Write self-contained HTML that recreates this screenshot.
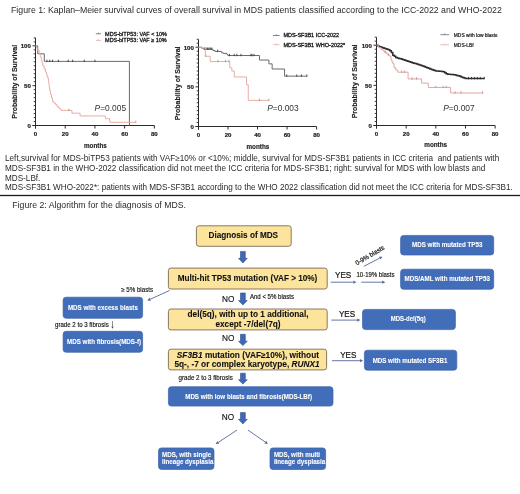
<!DOCTYPE html>
<html><head><meta charset="utf-8"><style>
html,body{margin:0;padding:0;background:#fff;}
body{width:520px;height:494px;overflow:hidden;position:relative;}
svg{position:absolute;left:0;top:0;font-family:"Liberation Sans", sans-serif;filter:blur(0.3px);}
</style></head><body>
<svg width="520" height="494" viewBox="0 0 520 494">
<text x="11" y="13.0" font-size="8.74" fill="#2a2a2a">Figure 1: Kaplan–Meier survival curves of overall survival in MDS patients classified according to the ICC-2022 and WHO-2022</text>
<line x1="35.5" y1="37.89" x2="35.5" y2="128.50" stroke="#2b2b2b" stroke-width="1"/><line x1="32.5" y1="125.5" x2="154.38" y2="125.5" stroke="#2b2b2b" stroke-width="1"/><line x1="33.7" y1="121.52" x2="35.5" y2="121.52" stroke="#2b2b2b" stroke-width="0.9"/><line x1="33.7" y1="117.53" x2="35.5" y2="117.53" stroke="#2b2b2b" stroke-width="0.9"/><line x1="33.7" y1="113.55" x2="35.5" y2="113.55" stroke="#2b2b2b" stroke-width="0.9"/><line x1="33.7" y1="109.57" x2="35.5" y2="109.57" stroke="#2b2b2b" stroke-width="0.9"/><line x1="33.7" y1="105.59" x2="35.5" y2="105.59" stroke="#2b2b2b" stroke-width="0.9"/><line x1="33.7" y1="101.61" x2="35.5" y2="101.61" stroke="#2b2b2b" stroke-width="0.9"/><line x1="33.7" y1="97.62" x2="35.5" y2="97.62" stroke="#2b2b2b" stroke-width="0.9"/><line x1="33.7" y1="93.64" x2="35.5" y2="93.64" stroke="#2b2b2b" stroke-width="0.9"/><line x1="33.7" y1="89.66" x2="35.5" y2="89.66" stroke="#2b2b2b" stroke-width="0.9"/><line x1="33.7" y1="81.69" x2="35.5" y2="81.69" stroke="#2b2b2b" stroke-width="0.9"/><line x1="33.7" y1="77.71" x2="35.5" y2="77.71" stroke="#2b2b2b" stroke-width="0.9"/><line x1="33.7" y1="73.73" x2="35.5" y2="73.73" stroke="#2b2b2b" stroke-width="0.9"/><line x1="33.7" y1="69.75" x2="35.5" y2="69.75" stroke="#2b2b2b" stroke-width="0.9"/><line x1="33.7" y1="65.76" x2="35.5" y2="65.76" stroke="#2b2b2b" stroke-width="0.9"/><line x1="33.7" y1="61.78" x2="35.5" y2="61.78" stroke="#2b2b2b" stroke-width="0.9"/><line x1="33.7" y1="57.80" x2="35.5" y2="57.80" stroke="#2b2b2b" stroke-width="0.9"/><line x1="33.7" y1="53.81" x2="35.5" y2="53.81" stroke="#2b2b2b" stroke-width="0.9"/><line x1="33.7" y1="49.83" x2="35.5" y2="49.83" stroke="#2b2b2b" stroke-width="0.9"/><line x1="33.7" y1="41.87" x2="35.5" y2="41.87" stroke="#2b2b2b" stroke-width="0.9"/><line x1="33.7" y1="37.89" x2="35.5" y2="37.89" stroke="#2b2b2b" stroke-width="0.9"/><line x1="32.5" y1="125.50" x2="35.5" y2="125.50" stroke="#2b2b2b" stroke-width="1"/><text x="30.90" y="127.80" font-size="6.1" font-weight="700" text-anchor="end" fill="#1e1e1e" stroke="#1e1e1e" stroke-width="0.2">0</text><line x1="32.5" y1="85.67" x2="35.5" y2="85.67" stroke="#2b2b2b" stroke-width="1"/><text x="30.90" y="87.97" font-size="6.1" font-weight="700" text-anchor="end" fill="#1e1e1e" stroke="#1e1e1e" stroke-width="0.2">50</text><line x1="32.5" y1="45.85" x2="35.5" y2="45.85" stroke="#2b2b2b" stroke-width="1"/><text x="30.90" y="48.15" font-size="6.1" font-weight="700" text-anchor="end" fill="#1e1e1e" stroke="#1e1e1e" stroke-width="0.2">100</text><line x1="35.50" y1="125.5" x2="35.50" y2="128.50" stroke="#2b2b2b" stroke-width="1"/><text x="35.50" y="136.30" font-size="6.1" font-weight="700" text-anchor="middle" fill="#1e1e1e" stroke="#1e1e1e" stroke-width="0.2">0</text><line x1="65.22" y1="125.5" x2="65.22" y2="128.50" stroke="#2b2b2b" stroke-width="1"/><text x="65.22" y="136.30" font-size="6.1" font-weight="700" text-anchor="middle" fill="#1e1e1e" stroke="#1e1e1e" stroke-width="0.2">20</text><line x1="94.94" y1="125.5" x2="94.94" y2="128.50" stroke="#2b2b2b" stroke-width="1"/><text x="94.94" y="136.30" font-size="6.1" font-weight="700" text-anchor="middle" fill="#1e1e1e" stroke="#1e1e1e" stroke-width="0.2">40</text><line x1="124.66" y1="125.5" x2="124.66" y2="128.50" stroke="#2b2b2b" stroke-width="1"/><text x="124.66" y="136.30" font-size="6.1" font-weight="700" text-anchor="middle" fill="#1e1e1e" stroke="#1e1e1e" stroke-width="0.2">60</text><line x1="154.38" y1="125.5" x2="154.38" y2="128.50" stroke="#2b2b2b" stroke-width="1"/><text x="154.38" y="136.30" font-size="6.1" font-weight="700" text-anchor="middle" fill="#1e1e1e" stroke="#1e1e1e" stroke-width="0.2">80</text><text x="95.40" y="147.60" font-size="6.3" font-weight="700" text-anchor="middle" fill="#1e1e1e" stroke="#1e1e1e" stroke-width="0.15">months</text><text transform="translate(16.60,81.80) rotate(-90)" x="0" y="0" font-size="7" font-weight="700" text-anchor="middle" fill="#1e1e1e" stroke="#1e1e1e" stroke-width="0.15">Probability of Survival</text><path d="M35.50,45.85H37.73V53.81H44.27V61.38H129.42V125.50" fill="none" stroke="#6a6a6a" stroke-width="1.0"/><line x1="46.94" y1="59.68" x2="46.94" y2="62.08" stroke="#3a3a3a" stroke-width="0.9"/><line x1="49.77" y1="59.68" x2="49.77" y2="62.08" stroke="#3a3a3a" stroke-width="0.9"/><line x1="52.59" y1="59.68" x2="52.59" y2="62.08" stroke="#3a3a3a" stroke-width="0.9"/><line x1="58.38" y1="59.68" x2="58.38" y2="62.08" stroke="#3a3a3a" stroke-width="0.9"/><line x1="68.19" y1="59.68" x2="68.19" y2="62.08" stroke="#3a3a3a" stroke-width="0.9"/><line x1="72.65" y1="59.68" x2="72.65" y2="62.08" stroke="#3a3a3a" stroke-width="0.9"/><line x1="84.24" y1="59.68" x2="84.24" y2="62.08" stroke="#3a3a3a" stroke-width="0.9"/><line x1="94.94" y1="59.68" x2="94.94" y2="62.08" stroke="#3a3a3a" stroke-width="0.9"/><path d="M35.50,45.85H36.69V48.24H37.88V50.63H39.22V53.81H40.26V57.00H41.30V60.19H42.04V62.97H42.78V65.76H44.12V68.95H45.46V72.13H46.64V75.32H47.69V78.11H48.43V82.49H49.17V87.27H49.77V90.85H50.51V94.44H51.55V98.02H52.59V101.61H53.93V103.04H55.41V104.39H56.90V106.22H58.38V107.98H60.02V109.17H61.21V110.37H71.91V113.15H80.08V115.94H105.34V118.73H109.80V122.31H135.81" fill="none" stroke="#e6aea2" stroke-width="1.0"/><line x1="68.94" y1="108.67" x2="68.94" y2="111.07" stroke="#b89593" stroke-width="0.9"/><line x1="135.81" y1="120.61" x2="135.81" y2="123.01" stroke="#b89593" stroke-width="0.9"/><text x="94.6" y="111" font-size="8.4" fill="#333"><tspan font-style="italic">P</tspan>=0.005</text><line x1="95.8" y1="33.8" x2="101" y2="33.8" stroke="#6a6a6a" stroke-width="0.8"/><line x1="98.4" y1="32.6" x2="98.4" y2="33.8" stroke="#6a6a6a" stroke-width="0.8"/><line x1="95.8" y1="40.4" x2="101" y2="40.4" stroke="#e6aea2" stroke-width="0.8"/><line x1="98.4" y1="39.2" x2="98.4" y2="40.4" stroke="#e6aea2" stroke-width="0.8"/><text x="105.1" y="35.7" font-size="5.47" fill="#222" stroke="#222" stroke-width="0.32">MDS-biTP53: VAF &lt; 10%</text><text x="105.1" y="42.3" font-size="5.47" fill="#222" stroke="#222" stroke-width="0.32">MDS-biTP53: VAF ≥ 10%</text><line x1="198.5" y1="39.27" x2="198.5" y2="129.50" stroke="#2b2b2b" stroke-width="1"/><line x1="195.5" y1="126.5" x2="316.58" y2="126.5" stroke="#2b2b2b" stroke-width="1"/><line x1="196.7" y1="122.53" x2="198.5" y2="122.53" stroke="#2b2b2b" stroke-width="0.9"/><line x1="196.7" y1="118.57" x2="198.5" y2="118.57" stroke="#2b2b2b" stroke-width="0.9"/><line x1="196.7" y1="114.61" x2="198.5" y2="114.61" stroke="#2b2b2b" stroke-width="0.9"/><line x1="196.7" y1="110.64" x2="198.5" y2="110.64" stroke="#2b2b2b" stroke-width="0.9"/><line x1="196.7" y1="106.67" x2="198.5" y2="106.67" stroke="#2b2b2b" stroke-width="0.9"/><line x1="196.7" y1="102.71" x2="198.5" y2="102.71" stroke="#2b2b2b" stroke-width="0.9"/><line x1="196.7" y1="98.75" x2="198.5" y2="98.75" stroke="#2b2b2b" stroke-width="0.9"/><line x1="196.7" y1="94.78" x2="198.5" y2="94.78" stroke="#2b2b2b" stroke-width="0.9"/><line x1="196.7" y1="90.81" x2="198.5" y2="90.81" stroke="#2b2b2b" stroke-width="0.9"/><line x1="196.7" y1="82.88" x2="198.5" y2="82.88" stroke="#2b2b2b" stroke-width="0.9"/><line x1="196.7" y1="78.92" x2="198.5" y2="78.92" stroke="#2b2b2b" stroke-width="0.9"/><line x1="196.7" y1="74.95" x2="198.5" y2="74.95" stroke="#2b2b2b" stroke-width="0.9"/><line x1="196.7" y1="70.99" x2="198.5" y2="70.99" stroke="#2b2b2b" stroke-width="0.9"/><line x1="196.7" y1="67.03" x2="198.5" y2="67.03" stroke="#2b2b2b" stroke-width="0.9"/><line x1="196.7" y1="63.06" x2="198.5" y2="63.06" stroke="#2b2b2b" stroke-width="0.9"/><line x1="196.7" y1="59.09" x2="198.5" y2="59.09" stroke="#2b2b2b" stroke-width="0.9"/><line x1="196.7" y1="55.13" x2="198.5" y2="55.13" stroke="#2b2b2b" stroke-width="0.9"/><line x1="196.7" y1="51.16" x2="198.5" y2="51.16" stroke="#2b2b2b" stroke-width="0.9"/><line x1="196.7" y1="43.23" x2="198.5" y2="43.23" stroke="#2b2b2b" stroke-width="0.9"/><line x1="196.7" y1="39.27" x2="198.5" y2="39.27" stroke="#2b2b2b" stroke-width="0.9"/><line x1="195.5" y1="126.50" x2="198.5" y2="126.50" stroke="#2b2b2b" stroke-width="1"/><text x="193.90" y="128.80" font-size="6.1" font-weight="700" text-anchor="end" fill="#1e1e1e" stroke="#1e1e1e" stroke-width="0.2">0</text><line x1="195.5" y1="86.85" x2="198.5" y2="86.85" stroke="#2b2b2b" stroke-width="1"/><text x="193.90" y="89.15" font-size="6.1" font-weight="700" text-anchor="end" fill="#1e1e1e" stroke="#1e1e1e" stroke-width="0.2">50</text><line x1="195.5" y1="47.20" x2="198.5" y2="47.20" stroke="#2b2b2b" stroke-width="1"/><text x="193.90" y="49.50" font-size="6.1" font-weight="700" text-anchor="end" fill="#1e1e1e" stroke="#1e1e1e" stroke-width="0.2">100</text><line x1="198.50" y1="126.5" x2="198.50" y2="129.50" stroke="#2b2b2b" stroke-width="1"/><text x="198.50" y="137.40" font-size="6.1" font-weight="700" text-anchor="middle" fill="#1e1e1e" stroke="#1e1e1e" stroke-width="0.2">0</text><line x1="228.02" y1="126.5" x2="228.02" y2="129.50" stroke="#2b2b2b" stroke-width="1"/><text x="228.02" y="137.40" font-size="6.1" font-weight="700" text-anchor="middle" fill="#1e1e1e" stroke="#1e1e1e" stroke-width="0.2">20</text><line x1="257.54" y1="126.5" x2="257.54" y2="129.50" stroke="#2b2b2b" stroke-width="1"/><text x="257.54" y="137.40" font-size="6.1" font-weight="700" text-anchor="middle" fill="#1e1e1e" stroke="#1e1e1e" stroke-width="0.2">40</text><line x1="287.06" y1="126.5" x2="287.06" y2="129.50" stroke="#2b2b2b" stroke-width="1"/><text x="287.06" y="137.40" font-size="6.1" font-weight="700" text-anchor="middle" fill="#1e1e1e" stroke="#1e1e1e" stroke-width="0.2">60</text><line x1="316.58" y1="126.5" x2="316.58" y2="129.50" stroke="#2b2b2b" stroke-width="1"/><text x="316.58" y="137.40" font-size="6.1" font-weight="700" text-anchor="middle" fill="#1e1e1e" stroke="#1e1e1e" stroke-width="0.2">80</text><text x="257.90" y="148.50" font-size="6.3" font-weight="700" text-anchor="middle" fill="#1e1e1e" stroke="#1e1e1e" stroke-width="0.15">months</text><text transform="translate(179.90,83.40) rotate(-90)" x="0" y="0" font-size="7" font-weight="700" text-anchor="middle" fill="#1e1e1e" stroke="#1e1e1e" stroke-width="0.15">Probability of Survival</text><path d="M198.50,47.20H201.89V48.39H203.81V49.18H212.96V50.53H214.88V51.40H221.67V52.75H223.15V53.39H226.99V54.50H227.87V55.53H259.46V60.05H268.91V63.85H272.15V69.01H284.55V76.14H306.84" fill="none" stroke="#6a6a6a" stroke-width="1.0"/><line x1="204.40" y1="47.48" x2="204.40" y2="49.88" stroke="#3a3a3a" stroke-width="0.9"/><line x1="205.88" y1="47.48" x2="205.88" y2="49.88" stroke="#3a3a3a" stroke-width="0.9"/><line x1="207.36" y1="47.48" x2="207.36" y2="49.88" stroke="#3a3a3a" stroke-width="0.9"/><line x1="208.83" y1="47.48" x2="208.83" y2="49.88" stroke="#3a3a3a" stroke-width="0.9"/><line x1="210.31" y1="47.48" x2="210.31" y2="49.88" stroke="#3a3a3a" stroke-width="0.9"/><line x1="211.78" y1="47.48" x2="211.78" y2="49.88" stroke="#3a3a3a" stroke-width="0.9"/><line x1="217.69" y1="49.70" x2="217.69" y2="52.10" stroke="#3a3a3a" stroke-width="0.9"/><line x1="229.50" y1="53.83" x2="229.50" y2="56.23" stroke="#3a3a3a" stroke-width="0.9"/><line x1="234.22" y1="53.83" x2="234.22" y2="56.23" stroke="#3a3a3a" stroke-width="0.9"/><line x1="236.88" y1="53.83" x2="236.88" y2="56.23" stroke="#3a3a3a" stroke-width="0.9"/><line x1="241.01" y1="53.83" x2="241.01" y2="56.23" stroke="#3a3a3a" stroke-width="0.9"/><line x1="250.90" y1="53.83" x2="250.90" y2="56.23" stroke="#3a3a3a" stroke-width="0.9"/><line x1="251.93" y1="53.83" x2="251.93" y2="56.23" stroke="#3a3a3a" stroke-width="0.9"/><line x1="254.00" y1="53.83" x2="254.00" y2="56.23" stroke="#3a3a3a" stroke-width="0.9"/><line x1="286.76" y1="74.44" x2="286.76" y2="76.84" stroke="#3a3a3a" stroke-width="0.9"/><line x1="296.80" y1="74.44" x2="296.80" y2="76.84" stroke="#3a3a3a" stroke-width="0.9"/><line x1="301.38" y1="74.44" x2="301.38" y2="76.84" stroke="#3a3a3a" stroke-width="0.9"/><line x1="306.84" y1="74.44" x2="306.84" y2="76.84" stroke="#3a3a3a" stroke-width="0.9"/><path d="M198.50,47.20H201.45V47.99H205.29V56.24H210.16V61.55H229.79V67.82H231.86V70.99H234.22V76.94H246.47V84.63H248.24V100.33H268.91" fill="none" stroke="#e6aea2" stroke-width="1.0"/><line x1="205.73" y1="54.54" x2="205.73" y2="56.94" stroke="#b89593" stroke-width="0.9"/><line x1="217.84" y1="59.85" x2="217.84" y2="62.25" stroke="#b89593" stroke-width="0.9"/><line x1="225.51" y1="59.85" x2="225.51" y2="62.25" stroke="#b89593" stroke-width="0.9"/><line x1="228.91" y1="59.85" x2="228.91" y2="62.25" stroke="#b89593" stroke-width="0.9"/><line x1="259.46" y1="98.63" x2="259.46" y2="101.03" stroke="#b89593" stroke-width="0.9"/><line x1="268.91" y1="98.63" x2="268.91" y2="101.03" stroke="#b89593" stroke-width="0.9"/><text x="267.2" y="111" font-size="8.4" fill="#333"><tspan font-style="italic">P</tspan>=0.003</text><line x1="273" y1="35.5" x2="279.7" y2="35.5" stroke="#6a6a6a" stroke-width="0.8"/><line x1="276.3" y1="34.3" x2="276.3" y2="35.5" stroke="#6a6a6a" stroke-width="0.8"/><line x1="273" y1="44.7" x2="279.7" y2="44.7" stroke="#e6aea2" stroke-width="0.8"/><line x1="276.3" y1="43.5" x2="276.3" y2="44.7" stroke="#e6aea2" stroke-width="0.8"/><text x="283.4" y="37.4" font-size="5.49" fill="#222" stroke="#222" stroke-width="0.32">MDS-SF3B1 ICC-2022</text><text x="283.4" y="46.6" font-size="5.49" fill="#222" stroke="#222" stroke-width="0.32">MDS-SF3B1 WHO-2022*</text><line x1="376.5" y1="37.17" x2="376.5" y2="128.50" stroke="#2b2b2b" stroke-width="1"/><line x1="373.5" y1="125.5" x2="495.14" y2="125.5" stroke="#2b2b2b" stroke-width="1"/><line x1="374.7" y1="121.48" x2="376.5" y2="121.48" stroke="#2b2b2b" stroke-width="0.9"/><line x1="374.7" y1="117.47" x2="376.5" y2="117.47" stroke="#2b2b2b" stroke-width="0.9"/><line x1="374.7" y1="113.45" x2="376.5" y2="113.45" stroke="#2b2b2b" stroke-width="0.9"/><line x1="374.7" y1="109.44" x2="376.5" y2="109.44" stroke="#2b2b2b" stroke-width="0.9"/><line x1="374.7" y1="105.42" x2="376.5" y2="105.42" stroke="#2b2b2b" stroke-width="0.9"/><line x1="374.7" y1="101.41" x2="376.5" y2="101.41" stroke="#2b2b2b" stroke-width="0.9"/><line x1="374.7" y1="97.39" x2="376.5" y2="97.39" stroke="#2b2b2b" stroke-width="0.9"/><line x1="374.7" y1="93.38" x2="376.5" y2="93.38" stroke="#2b2b2b" stroke-width="0.9"/><line x1="374.7" y1="89.36" x2="376.5" y2="89.36" stroke="#2b2b2b" stroke-width="0.9"/><line x1="374.7" y1="81.34" x2="376.5" y2="81.34" stroke="#2b2b2b" stroke-width="0.9"/><line x1="374.7" y1="77.32" x2="376.5" y2="77.32" stroke="#2b2b2b" stroke-width="0.9"/><line x1="374.7" y1="73.31" x2="376.5" y2="73.31" stroke="#2b2b2b" stroke-width="0.9"/><line x1="374.7" y1="69.29" x2="376.5" y2="69.29" stroke="#2b2b2b" stroke-width="0.9"/><line x1="374.7" y1="65.28" x2="376.5" y2="65.28" stroke="#2b2b2b" stroke-width="0.9"/><line x1="374.7" y1="61.26" x2="376.5" y2="61.26" stroke="#2b2b2b" stroke-width="0.9"/><line x1="374.7" y1="57.24" x2="376.5" y2="57.24" stroke="#2b2b2b" stroke-width="0.9"/><line x1="374.7" y1="53.23" x2="376.5" y2="53.23" stroke="#2b2b2b" stroke-width="0.9"/><line x1="374.7" y1="49.21" x2="376.5" y2="49.21" stroke="#2b2b2b" stroke-width="0.9"/><line x1="374.7" y1="41.18" x2="376.5" y2="41.18" stroke="#2b2b2b" stroke-width="0.9"/><line x1="374.7" y1="37.17" x2="376.5" y2="37.17" stroke="#2b2b2b" stroke-width="0.9"/><line x1="373.5" y1="125.50" x2="376.5" y2="125.50" stroke="#2b2b2b" stroke-width="1"/><text x="371.90" y="127.80" font-size="6.1" font-weight="700" text-anchor="end" fill="#1e1e1e" stroke="#1e1e1e" stroke-width="0.2">0</text><line x1="373.5" y1="85.35" x2="376.5" y2="85.35" stroke="#2b2b2b" stroke-width="1"/><text x="371.90" y="87.65" font-size="6.1" font-weight="700" text-anchor="end" fill="#1e1e1e" stroke="#1e1e1e" stroke-width="0.2">50</text><line x1="373.5" y1="45.20" x2="376.5" y2="45.20" stroke="#2b2b2b" stroke-width="1"/><text x="371.90" y="47.50" font-size="6.1" font-weight="700" text-anchor="end" fill="#1e1e1e" stroke="#1e1e1e" stroke-width="0.2">100</text><line x1="376.50" y1="125.5" x2="376.50" y2="128.50" stroke="#2b2b2b" stroke-width="1"/><text x="376.50" y="136.00" font-size="6.1" font-weight="700" text-anchor="middle" fill="#1e1e1e" stroke="#1e1e1e" stroke-width="0.2">0</text><line x1="406.16" y1="125.5" x2="406.16" y2="128.50" stroke="#2b2b2b" stroke-width="1"/><text x="406.16" y="136.00" font-size="6.1" font-weight="700" text-anchor="middle" fill="#1e1e1e" stroke="#1e1e1e" stroke-width="0.2">20</text><line x1="435.82" y1="125.5" x2="435.82" y2="128.50" stroke="#2b2b2b" stroke-width="1"/><text x="435.82" y="136.00" font-size="6.1" font-weight="700" text-anchor="middle" fill="#1e1e1e" stroke="#1e1e1e" stroke-width="0.2">40</text><line x1="465.48" y1="125.5" x2="465.48" y2="128.50" stroke="#2b2b2b" stroke-width="1"/><text x="465.48" y="136.00" font-size="6.1" font-weight="700" text-anchor="middle" fill="#1e1e1e" stroke="#1e1e1e" stroke-width="0.2">60</text><line x1="495.14" y1="125.5" x2="495.14" y2="128.50" stroke="#2b2b2b" stroke-width="1"/><text x="495.14" y="136.00" font-size="6.1" font-weight="700" text-anchor="middle" fill="#1e1e1e" stroke="#1e1e1e" stroke-width="0.2">80</text><text x="435.70" y="146.60" font-size="6.3" font-weight="700" text-anchor="middle" fill="#1e1e1e" stroke="#1e1e1e" stroke-width="0.15">months</text><text transform="translate(357.40,81.40) rotate(-90)" x="0" y="0" font-size="7" font-weight="700" text-anchor="middle" fill="#1e1e1e" stroke="#1e1e1e" stroke-width="0.15">Probability of Survival</text><path d="M376.50,45.20H377.98V45.92H379.47V46.63H380.95V47.31H382.43V47.82H383.92V48.33H385.40V48.85H386.88V49.36H388.36V49.87H389.85V50.79H391.33V52.55H392.81V55.16H394.30V56.30H395.78V57.45H397.26V57.97H398.75V58.41H400.23V58.86H401.71V59.31H403.19V59.75H404.68V60.23H406.16V60.74H407.64V61.25H409.13V61.75H410.61V62.26H412.09V62.73H413.57V63.16H415.06V63.60H416.54V64.03H418.02V64.47H419.51V64.90H420.99V65.44H422.47V66.02H423.96V66.60H425.44V67.18H426.92V67.75H428.40V68.33H429.89V68.91H431.37V69.47H432.85V70.03H434.34V70.59H435.82V70.90H437.30V71.03H438.79V71.16H440.27V71.30H441.75V71.43H443.24V71.73H444.72V72.72H446.20V73.70H447.68V74.25H449.17V74.37H450.65V74.49H452.13V74.60H453.62V74.72H455.10V74.88H456.58V75.38H458.06V75.87H459.55V76.37H461.03V76.91H462.51V77.47H464.00V78.03H465.48V78.59H484.31" fill="none" stroke="#2e2e2e" stroke-width="1.5"/><path d="M376.50,45.20H378.72V47.61H380.95V49.21H383.03V50.82H384.66V52.43H386.73V54.03H388.36V55.24H389.85V56.44H391.03V59.65H391.92V61.66H392.81V63.67H394.00V67.68H395.78V70.09H397.71V72.18H408.09V78.93H421.58V83.10H428.26V87.44H450.65V92.98H482.68" fill="none" stroke="#e6a4a1" stroke-width="1.0"/><line x1="385.40" y1="50.73" x2="385.40" y2="53.13" stroke="#b89593" stroke-width="0.9"/><line x1="388.36" y1="53.54" x2="388.36" y2="55.94" stroke="#b89593" stroke-width="0.9"/><line x1="401.71" y1="70.48" x2="401.71" y2="72.88" stroke="#b89593" stroke-width="0.9"/><line x1="404.68" y1="70.48" x2="404.68" y2="72.88" stroke="#b89593" stroke-width="0.9"/><line x1="412.09" y1="77.23" x2="412.09" y2="79.63" stroke="#b89593" stroke-width="0.9"/><line x1="416.54" y1="77.23" x2="416.54" y2="79.63" stroke="#b89593" stroke-width="0.9"/><line x1="435.82" y1="85.74" x2="435.82" y2="88.14" stroke="#b89593" stroke-width="0.9"/><line x1="443.24" y1="85.74" x2="443.24" y2="88.14" stroke="#b89593" stroke-width="0.9"/><line x1="446.20" y1="85.74" x2="446.20" y2="88.14" stroke="#b89593" stroke-width="0.9"/><line x1="455.10" y1="91.28" x2="455.10" y2="93.68" stroke="#b89593" stroke-width="0.9"/><line x1="461.03" y1="91.28" x2="461.03" y2="93.68" stroke="#b89593" stroke-width="0.9"/><line x1="482.68" y1="91.28" x2="482.68" y2="93.68" stroke="#b89593" stroke-width="0.9"/><line x1="468.45" y1="76.89" x2="468.45" y2="79.29" stroke="#2a2a2a" stroke-width="0.9"/><line x1="471.41" y1="76.89" x2="471.41" y2="79.29" stroke="#2a2a2a" stroke-width="0.9"/><line x1="474.38" y1="76.89" x2="474.38" y2="79.29" stroke="#2a2a2a" stroke-width="0.9"/><line x1="477.34" y1="76.89" x2="477.34" y2="79.29" stroke="#2a2a2a" stroke-width="0.9"/><line x1="480.31" y1="76.89" x2="480.31" y2="79.29" stroke="#2a2a2a" stroke-width="0.9"/><line x1="484.31" y1="76.89" x2="484.31" y2="79.29" stroke="#2a2a2a" stroke-width="0.9"/><text x="443.2" y="111" font-size="8.4" fill="#333"><tspan font-style="italic">P</tspan>=0.007</text><line x1="440.4" y1="34.7" x2="449.1" y2="34.7" stroke="#6a6a6a" stroke-width="0.8"/><line x1="444.7" y1="33.5" x2="444.7" y2="34.7" stroke="#6a6a6a" stroke-width="0.8"/><line x1="440.4" y1="44.8" x2="449.1" y2="44.8" stroke="#e6aea2" stroke-width="0.8"/><line x1="444.7" y1="43.6" x2="444.7" y2="44.8" stroke="#e6aea2" stroke-width="0.8"/><text x="453.8" y="36.5" font-size="4.9" fill="#222" stroke="#222" stroke-width="0.2">MDS with low blasts</text><text x="453.8" y="46.6" font-size="4.9" fill="#222" stroke="#222" stroke-width="0.2">MDS-LBf</text>
<g font-size="8.17" fill="#2a2a2a">
<text x="5" y="160.6" textLength="494.2" lengthAdjust="spacing">Left,survival for MDS-biTP53 patients with VAF≥10% or &lt;10%; middle, survival for MDS-SF3B1 patients in ICC criteria&#160; and patients with</text>
<text x="5" y="170.8" textLength="480.4" lengthAdjust="spacing">MDS-SF3B1 in the WHO-2022 classification did not meet the ICC criteria for MDS-SF3B1; right: survival for MDS with low blasts and</text>
<text x="5" y="180.6">MDS-LBf.</text>
<text x="5" y="189.8" textLength="507.8" lengthAdjust="spacing">MDS-SF3B1 WHO-2022*: patients with MDS-SF3B1 according to the WHO 2022 classification did not meet the ICC criteria for MDS-SF3B1.</text>
</g>
<rect x="0" y="194.85" width="520" height="1.3" fill="#1a1a1a"/>
<text x="12.3" y="208.1" font-size="8.7" fill="#2a2a2a" textLength="173.7" lengthAdjust="spacing">Figure 2: Algorithm for the diagnosis of MDS.</text>
<rect x="196.4" y="225.8" width="94.80" height="20.50" rx="2.5" fill="#fde49c" stroke="#7a6c55" stroke-width="0.9"/><text x="243.3" y="237.95" font-size="8.2" font-weight="700" fill="#111" text-anchor="middle" stroke="#111" stroke-width="0.08" >Diagnosis of MDS</text><path d="M240.50,251.4 H245.30 V258.30 H247.30 L242.9,263.0 L238.50,258.30 H240.50 Z" fill="#4068b4" stroke="#2d4f90" stroke-width="0.6" stroke-linejoin="round"/><rect x="168.4" y="268.1" width="158.80" height="20.90" rx="2.5" fill="#fde49c" stroke="#7a6c55" stroke-width="0.9"/><text x="247.5" y="280.75" font-size="8.2" font-weight="700" fill="#111" text-anchor="middle" stroke="#111" stroke-width="0.08" >Multi-hit TP53 mutation (VAF &gt; 10%)</text><text x="222.1" y="301.7" font-size="8.27" font-weight="400" fill="#111" text-anchor="start" stroke="#111" stroke-width="0.12" >NO</text><path d="M240.50,293.0 H245.30 V300.50 H247.30 L242.9,304.9 L238.50,300.50 H240.50 Z" fill="#4068b4" stroke="#2d4f90" stroke-width="0.6" stroke-linejoin="round"/><text x="249.9" y="299.0" font-size="6.45" font-weight="400" fill="#111" text-anchor="start" textLength="44.03" lengthAdjust="spacingAndGlyphs" stroke="#111" stroke-width="0.15">And &lt; 5% blasts</text><rect x="168.4" y="309.0" width="158.80" height="20.90" rx="2.5" fill="#fde49c" stroke="#7a6c55" stroke-width="0.9"/><text x="248.0" y="316.85" font-size="8.25" font-weight="700" fill="#111" text-anchor="middle" stroke="#111" stroke-width="0.08" >del(5q), with up to 1 additional,</text><text x="248.0" y="326.7" font-size="8.25" font-weight="700" fill="#111" text-anchor="middle" stroke="#111" stroke-width="0.08" >except -7/del(7q)</text><text x="222" y="341.25" font-size="8.27" font-weight="400" fill="#111" text-anchor="start" stroke="#111" stroke-width="0.12" >NO</text><path d="M240.50,334.3 H245.30 V341.20 H247.30 L242.9,345.6 L238.50,341.20 H240.50 Z" fill="#4068b4" stroke="#2d4f90" stroke-width="0.6" stroke-linejoin="round"/><rect x="168.4" y="349.2" width="158.20" height="20.70" rx="2.5" fill="#fde49c" stroke="#7a6c55" stroke-width="0.9"/><text x="247.9" y="358.1" font-size="8.3" font-weight="700" fill="#111" text-anchor="middle" stroke="#111" stroke-width="0.08" ><tspan font-style='italic'>SF3B1</tspan> mutation (VAF≥10%), without</text><text x="247.0" y="366.85" font-size="8.3" font-weight="700" fill="#111" text-anchor="middle" stroke="#111" stroke-width="0.08" >5q-, -7 or complex karyotype, <tspan font-style='italic'>RUNX1</tspan></text><text x="178.6" y="380.0" font-size="6.5" font-weight="400" fill="#111" text-anchor="start" textLength="54.19" lengthAdjust="spacingAndGlyphs" stroke="#111" stroke-width="0.15">grade 2 to 3 fibrosis</text><path d="M240.50,373.2 H245.30 V379.80 H247.30 L242.9,384.1 L238.50,379.80 H240.50 Z" fill="#4068b4" stroke="#2d4f90" stroke-width="0.6" stroke-linejoin="round"/><rect x="168.4" y="386.7" width="164.60" height="19.40" rx="3" fill="#416db9" stroke="#3d63ac" stroke-width="0.7"/><text x="248.6" y="398.9" font-size="6.4" font-weight="700" fill="#fff" text-anchor="middle" textLength="126.76" lengthAdjust="spacingAndGlyphs" stroke="#fff" stroke-width="0.08">MDS with low blasts and fibrosis(MDS-LBf)</text><text x="221.8" y="419.9" font-size="8.27" font-weight="400" fill="#111" text-anchor="start" stroke="#111" stroke-width="0.12" >NO</text><path d="M240.50,412.6 H245.30 V419.30 H247.30 L242.9,423.9 L238.50,419.30 H240.50 Z" fill="#4068b4" stroke="#2d4f90" stroke-width="0.6" stroke-linejoin="round"/><line x1="237" y1="430.1" x2="218.28" y2="442.35" stroke="#55689c" stroke-width="0.9"/><path d="M215.60,444.10 L217.40,441.01 L219.15,443.69 Z" fill="#55689c"/><line x1="248" y1="430.1" x2="265.27" y2="442.08" stroke="#55689c" stroke-width="0.9"/><path d="M267.90,443.90 L264.36,443.39 L266.18,440.76 Z" fill="#55689c"/><rect x="158.5" y="447.9" width="55.50" height="21.50" rx="3" fill="#416db9" stroke="#3d63ac" stroke-width="0.7"/><text x="162" y="456.5" font-size="6.4" font-weight="700" fill="#fff" text-anchor="start" textLength="49.26" lengthAdjust="spacingAndGlyphs" stroke="#fff" stroke-width="0.08">MDS, with single</text><text x="162" y="463.6" font-size="6.4" font-weight="700" fill="#fff" text-anchor="start" textLength="51.35" lengthAdjust="spacingAndGlyphs" stroke="#fff" stroke-width="0.08">lineage dysplasia</text><rect x="270.0" y="447.9" width="55.60" height="21.60" rx="3" fill="#416db9" stroke="#3d63ac" stroke-width="0.7"/><text x="273.9" y="456.5" font-size="6.4" font-weight="700" fill="#fff" text-anchor="start" textLength="46.15" lengthAdjust="spacingAndGlyphs" stroke="#fff" stroke-width="0.08">MDS, with multi</text><text x="273.9" y="463.6" font-size="6.4" font-weight="700" fill="#fff" text-anchor="start" textLength="51.35" lengthAdjust="spacingAndGlyphs" stroke="#fff" stroke-width="0.08">lineage dysplasia</text><line x1="169.5" y1="290.5" x2="150.21" y2="299.27" stroke="#55689c" stroke-width="0.9"/><path d="M147.30,300.60 L149.55,297.82 L150.88,300.73 Z" fill="#55689c"/><text x="121.25" y="291.6" font-size="6.5" font-weight="400" fill="#111" text-anchor="start" textLength="31.75" lengthAdjust="spacingAndGlyphs" stroke="#111" stroke-width="0.15">≥ 5% blasts</text><rect x="63.1" y="297.2" width="79.50" height="21.10" rx="3" fill="#416db9" stroke="#3d63ac" stroke-width="0.7"/><text x="102.9" y="309.85" font-size="6.4" font-weight="700" fill="#fff" text-anchor="middle" textLength="69.95" lengthAdjust="spacingAndGlyphs" stroke="#fff" stroke-width="0.08">MDS with excess blasts</text><text x="55" y="326.8" font-size="6.5" font-weight="400" fill="#111" text-anchor="start" textLength="53.75" lengthAdjust="spacingAndGlyphs" stroke="#111" stroke-width="0.15">grade 2 to 3 fibrosis</text><line x1="112.5" y1="321" x2="112.50" y2="326.60" stroke="#444" stroke-width="0.6"/><path d="M112.50,328.80 L111.40,326.60 L113.60,326.60 Z" fill="#444"/><rect x="63.1" y="331.3" width="79.50" height="21.00" rx="3" fill="#416db9" stroke="#3d63ac" stroke-width="0.7"/><text x="104.1" y="344.3" font-size="6.4" font-weight="700" fill="#fff" text-anchor="middle" textLength="74.05" lengthAdjust="spacingAndGlyphs" stroke="#fff" stroke-width="0.08">MDS with fibrosis(MDS-f)</text><text x="335" y="278.3" font-size="8.5" font-weight="400" fill="#111" text-anchor="start" textLength="16.21" lengthAdjust="spacingAndGlyphs" stroke="#111" stroke-width="0.2">YES</text><line x1="330.6" y1="282.2" x2="353.30" y2="282.20" stroke="#55689c" stroke-width="0.9"/><path d="M356.50,282.20 L353.30,283.80 L353.30,280.60 Z" fill="#55689c"/><line x1="361.3" y1="282.2" x2="382.20" y2="282.20" stroke="#55689c" stroke-width="0.9"/><path d="M385.40,282.20 L382.20,283.80 L382.20,280.60 Z" fill="#55689c"/><line x1="363.8" y1="266.3" x2="379.65" y2="258.16" stroke="#55689c" stroke-width="0.9"/><path d="M382.50,256.70 L380.38,259.58 L378.92,256.74 Z" fill="#55689c"/><text x="356.5" y="276.6" font-size="6.4" font-weight="400" fill="#111" text-anchor="start" textLength="38.02" lengthAdjust="spacingAndGlyphs" stroke="#111" stroke-width="0.15">10-19% blasts</text><text transform="translate(357.0,265.6) rotate(-31)" font-size="6.6" fill="#111" stroke="#111" stroke-width="0.18" textLength="32.65" lengthAdjust="spacingAndGlyphs">0-9% blasts</text><rect x="400.6" y="235.4" width="93.10" height="19.60" rx="3" fill="#416db9" stroke="#3d63ac" stroke-width="0.7"/><text x="447.2" y="246.95" font-size="6.4" font-weight="700" fill="#fff" text-anchor="middle" textLength="70.27" lengthAdjust="spacingAndGlyphs" stroke="#fff" stroke-width="0.08">MDS with mutated TP53</text><rect x="400.6" y="269.2" width="93.10" height="20.10" rx="3" fill="#416db9" stroke="#3d63ac" stroke-width="0.7"/><text x="447.2" y="280.7" font-size="6.4" font-weight="700" fill="#fff" text-anchor="middle" textLength="85.31" lengthAdjust="spacingAndGlyphs" stroke="#fff" stroke-width="0.08">MDS/AML with mutated TP53</text><text x="338.9" y="317.2" font-size="8.5" font-weight="400" fill="#111" text-anchor="start" textLength="16.21" lengthAdjust="spacingAndGlyphs" stroke="#111" stroke-width="0.2">YES</text><line x1="331.3" y1="320.1" x2="357.20" y2="320.10" stroke="#55689c" stroke-width="0.9"/><path d="M360.40,320.10 L357.20,321.70 L357.20,318.50 Z" fill="#55689c"/><rect x="362.5" y="309.4" width="92.90" height="20.20" rx="3" fill="#416db9" stroke="#3d63ac" stroke-width="0.7"/><text x="408.2" y="321.3" font-size="6.3" font-weight="700" fill="#fff" text-anchor="middle" textLength="35.00" lengthAdjust="spacingAndGlyphs" stroke="#fff" stroke-width="0.08">MDS-del(5q)</text><text x="340.2" y="358.1" font-size="8.5" font-weight="400" fill="#111" text-anchor="start" textLength="16.21" lengthAdjust="spacingAndGlyphs" stroke="#111" stroke-width="0.2">YES</text><line x1="332.1" y1="360.7" x2="359.90" y2="360.70" stroke="#55689c" stroke-width="0.9"/><path d="M363.10,360.70 L359.90,362.30 L359.90,359.10 Z" fill="#55689c"/><rect x="364.4" y="350.2" width="92.40" height="20.00" rx="3" fill="#416db9" stroke="#3d63ac" stroke-width="0.7"/><text x="410" y="362.6" font-size="6.4" font-weight="700" fill="#fff" text-anchor="middle" textLength="74.75" lengthAdjust="spacingAndGlyphs" stroke="#fff" stroke-width="0.08">MDS with mutated SF3B1</text>
</svg>
</body></html>
